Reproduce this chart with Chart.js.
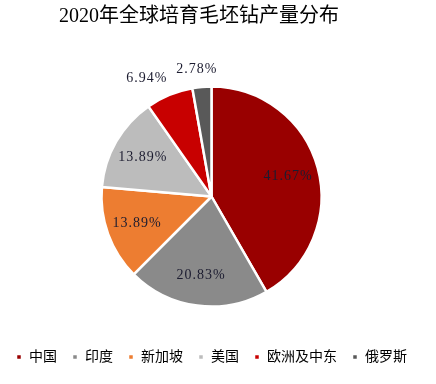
<!DOCTYPE html>
<html>
<head>
<meta charset="utf-8">
<script src="https://cdn.jsdelivr.net/npm/chart.js@4/dist/chart.umd.min.js"></script>
<style>
  html, body { margin: 0; padding: 0; background: #fff; }
  #wrap { width: 436px; height: 384px; }
</style>
</head>
<body>
<div id="wrap"><canvas id="c" width="436" height="384"></canvas></div>
<script>
// data
const regions = ['中国', '印度', '新加坡', '美国', '欧洲及中东', '俄罗斯'];
const shares = [41.67, 20.83, 13.89, 13.89, 6.94, 2.78];
const colors = ['#990000', '#8a8a8a', '#ed7d31', '#bcbcbc', '#c80000', '#595959'];
const chartTitle = '2020年全球培育毛坯钻产量分布';

const serif = '"Liberation Serif", "Noto Sans CJK SC", serif';

// title sits a bit left of the pie centre in the original, so draw it here
const titleText = {
    id: 'titleText',
    afterDraw(chart) {
        const ctx = chart.ctx;
        ctx.save();
        ctx.font = '20px ' + serif;
        ctx.fillStyle = '#000';
        ctx.textAlign = 'center';
        ctx.textBaseline = 'middle';
        ctx.fillText(chartTitle, 199, 17);
        ctx.restore();
    }
};

// percentage labels: inside for big slices, just outside for small ones
const sliceLabels = {
    id: 'sliceLabels',
    afterDatasetsDraw(chart) {
        const ctx = chart.ctx;
        const meta = chart.getDatasetMeta(0);
        ctx.save();
        ctx.font = '14px ' + serif;
        ctx.letterSpacing = '1px';
        ctx.fillStyle = '#1c1c30';
        ctx.textAlign = 'center';
        ctx.textBaseline = 'middle';
        meta.data.forEach((arc, i) => {
            const txt = shares[i].toFixed(2) + '%';
            const mid = (arc.startAngle + arc.endAngle) / 2;
            const outside = shares[i] < 10;
            const f = outside ? 1.16 : 0.72;
            let x = arc.x + Math.cos(mid) * arc.outerRadius * f;
            const y = arc.y + Math.sin(mid) * arc.outerRadius * f;
            if (outside) {
                // push the box away from the pie sideways
                x += Math.cos(mid) * ctx.measureText(txt).width;
            }
            ctx.fillText(txt, x, y);
        });
        ctx.restore();
    }
};

new Chart(document.getElementById('c'), {
    type: 'pie',
    data: {
        labels: regions,
        datasets: [{
            data: shares,
            backgroundColor: colors,
            borderColor: '#fff',
            borderWidth: 2.5,
            radius: 110
        }]
    },
    options: {
        responsive: false,
        animation: false,
        layout: { padding: { left: 0, right: 13, top: 58, bottom: 10 } },
        plugins: {
            title: { display: false },
            legend: {
                position: 'bottom',
                labels: {
                    color: '#000',
                    font: { family: serif, size: 14 },
                    boxWidth: 6,
                    boxHeight: 6,
                    padding: 15
                }
            },
            tooltip: { enabled: false }
        }
    },
    plugins: [sliceLabels, titleText]
});
</script>
</body>
</html>
